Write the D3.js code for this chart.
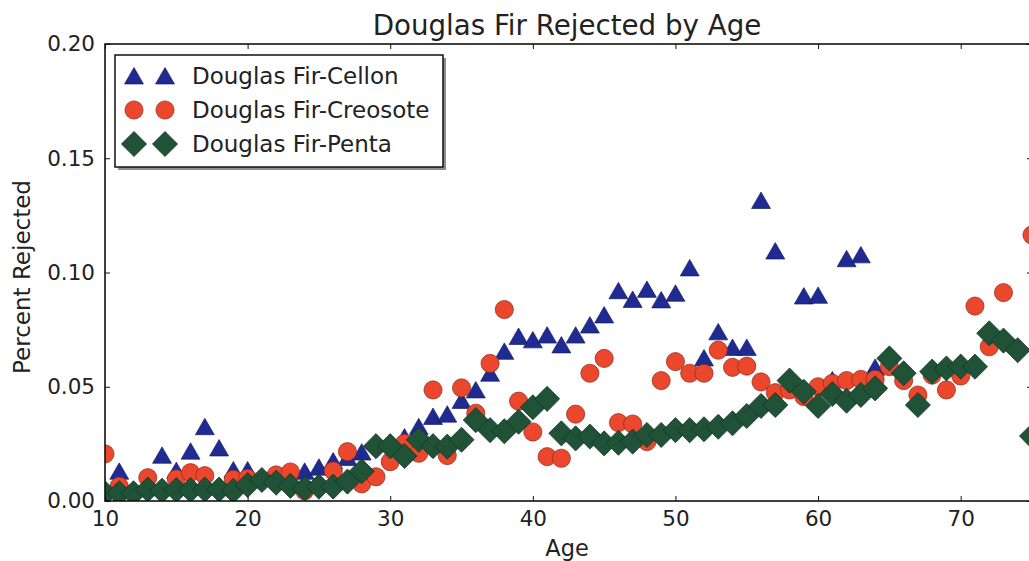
<!DOCTYPE html>
<html>
<head>
<meta charset="utf-8">
<script src="https://cdn.jsdelivr.net/npm/d3@7"></script>
<style>
  html, body { margin: 0; padding: 0; background: #fff; overflow: hidden; }
  svg { display: block; }
  text { font-family: "DejaVu Sans", sans-serif; fill: #222; }
</style>
</head>
<body>
<svg id="chart" width="1029" height="561"></svg>
<script>
// Ages 10..75
const ages = d3.range(10, 76);

// Share of poles rejected, by treatment (null = no point drawn)
const cellon = [
  null, 0.013, null, null, 0.020, 0.0133, 0.0218, 0.0325, 0.0232, 0.0136,
  0.0136, null, null, null, 0.013, 0.0148, 0.0175, 0.0190, 0.0214, null,
  null, 0.028, 0.0325, 0.037, 0.038, 0.044, 0.0486, 0.0559, 0.0655, 0.072,
  0.0705, 0.0726, 0.0683, 0.0726, 0.077, 0.0814, 0.092, 0.0882, 0.0926, 0.088,
  0.0909, 0.102, 0.0626, 0.074, 0.0672, 0.0672, 0.1315, 0.1094, null, 0.0897,
  0.090, 0.053, 0.106, 0.1077, 0.0585, null, null, null, null, null,
  null, null, null, null, null, null
];
const creosote = [
  0.0206, 0.0065, null, 0.0102, null, 0.0097, 0.0124, 0.0111, null, 0.0095,
  0.0099, null, 0.0114, 0.0127, 0.0045, null, 0.0132, 0.0216, 0.0075, 0.0106,
  0.0172, 0.0252, 0.0209, 0.0486, 0.0199, 0.0495, 0.0384, 0.0602, 0.0838, 0.0437,
  0.0302, 0.0194, 0.0187, 0.038, 0.0559, 0.0624, 0.0343, 0.0337, 0.026, 0.0527,
  0.061, 0.0559, 0.0559, 0.066, 0.0585, 0.059, 0.0521, 0.0474, 0.0486, 0.0457,
  0.050, 0.0515, 0.0527, 0.0532, 0.0532, 0.0588, 0.0527, 0.0464, 0.0551, 0.0486,
  0.0547, 0.0853, 0.0675, 0.0912, null, 0.1164
];
const penta = [
  0.0034, 0.0034, 0.0034, 0.005, 0.0045, 0.0048, 0.0048, 0.005, 0.005, 0.0045,
  0.007, 0.0092, 0.008, 0.0066, 0.0055, 0.0063, 0.0063, 0.0085, 0.013, 0.024,
  0.024, 0.0197, 0.0268, 0.024, 0.0238, 0.0268, 0.0354, 0.031, 0.0305, 0.0347,
  0.041, 0.0447, 0.0296, 0.0274, 0.0282, 0.0252, 0.0255, 0.026, 0.0289, 0.0289,
  0.031, 0.031, 0.0314, 0.0325, 0.034, 0.0372, 0.0416, 0.042, 0.0527, 0.0478,
  0.0416, 0.0468, 0.0439, 0.0464, 0.0493, 0.0624, 0.0559, 0.042, 0.0566, 0.058,
  0.0588, 0.0588, 0.0734, 0.0702, 0.066, 0.0284
];

const seriesNames = ["Douglas Fir-Cellon", "Douglas Fir-Creosote", "Douglas Fir-Penta"];
const xTicks = [10, 20, 30, 40, 50, 60, 70];
const yTicks = [0, 0.05, 0.10, 0.15, 0.20];

const svg = d3.select("#chart");
const plotL = 105, plotR = 1032, plotT = 44, plotB = 501;

const x = d3.scaleLinear().domain([10, 75]).range([plotL, plotR]);
const y = d3.scaleLinear().domain([0, 0.2]).range([plotB, plotT]);

// Marker shapes
const shapes = [
  { type: d3.symbolTriangle, fill: "#1f2b93", stroke: "#141c60", area: 155 },
  { type: d3.symbolCircle,   fill: "#ea472c", stroke: "#8a2a1c", area: 260 },
  { type: d3.symbolSquare,   fill: "#1f5236", stroke: "#123321", area: 315, rotate: 45 }
];
function markerPath(s) { return d3.symbol().type(s.type).size(s.area)(); }
function markerTransform(s, cx, cy) {
  // d3's triangle is centred on its centroid; shift so the box centre sits on the point
  const dy = s.type === d3.symbolTriangle ? 2.5 : 0;
  return `translate(${cx},${cy + dy})` + (s.rotate ? ` rotate(${s.rotate})` : "");
}

// Clip markers to the axes box
svg.append("defs").append("clipPath").attr("id", "plotClip")
  .append("rect").attr("x", plotL).attr("y", plotT)
  .attr("width", plotR - plotL).attr("height", plotB - plotT);

const plot = svg.append("g").attr("clip-path", "url(#plotClip)");
[cellon, creosote, penta].forEach((vals, i) => {
  const s = shapes[i];
  const pts = ages.map((a, j) => ({ age: a, v: vals[j] })).filter(d => d.v != null);
  plot.append("g").selectAll("path").data(pts).join("path")
    .attr("d", markerPath(s))
    .attr("transform", d => markerTransform(s, x(d.age), y(d.v)))
    .attr("fill", s.fill)
    .attr("stroke", s.stroke)
    .attr("stroke-width", 0.7);
});

// Axes with inward ticks on all four sides
const tickLen = 5;
const axB = d3.axisBottom(x).tickValues(xTicks).tickSizeInner(-tickLen).tickSizeOuter(0).tickPadding(10).tickFormat(d3.format("d"));
const axT = d3.axisTop(x).tickValues(xTicks).tickSizeInner(-tickLen).tickSizeOuter(0).tickFormat("");
const axL = d3.axisLeft(y).tickValues(yTicks).tickSizeInner(-tickLen).tickSizeOuter(0).tickPadding(10).tickFormat(d3.format(".2f"));
const axR = d3.axisRight(y).tickValues(yTicks).tickSizeInner(-tickLen).tickSizeOuter(0).tickFormat("");

function styleAxis(g) {
  g.select(".domain").remove();
  g.selectAll(".tick line").attr("stroke", "#111").attr("stroke-width", 1);
  g.selectAll(".tick text").attr("fill", "#222")
    .style("font-family", "'DejaVu Sans', sans-serif").style("font-size", "21.5px");
}
svg.append("g").attr("transform", `translate(0,${plotB})`).call(axB).call(styleAxis);
svg.append("g").attr("transform", `translate(0,${plotT})`).call(axT).call(styleAxis);
svg.append("g").attr("transform", `translate(${plotL},0)`).call(axL).call(styleAxis);
svg.append("g").attr("transform", `translate(${plotR},0)`).call(axR).call(styleAxis);

// Frame
svg.append("rect").attr("x", plotL).attr("y", plotT)
  .attr("width", plotR - plotL).attr("height", plotB - plotT)
  .attr("fill", "none").attr("stroke", "#111").attr("stroke-width", 1.6);

// Title and axis labels
svg.append("text").attr("x", 567).attr("y", 35)
  .attr("text-anchor", "middle").style("font-size", "27.7px")
  .text("Douglas Fir Rejected by Age");
svg.append("text").attr("x", 567).attr("y", 556)
  .attr("text-anchor", "middle").style("font-size", "22.5px").text("Age");
svg.append("text").attr("transform", "translate(30,277) rotate(-90)")
  .attr("text-anchor", "middle").style("font-size", "23px").text("Percent Rejected");

// Legend with drop shadow
const lg = svg.append("g");
const lx = 115, ly = 55, lw = 328, lh = 112;
lg.append("rect").attr("x", lx + 3).attr("y", ly + 3).attr("width", lw).attr("height", lh)
  .attr("fill", "#8d8d9a");
lg.append("rect").attr("x", lx).attr("y", ly).attr("width", lw).attr("height", lh)
  .attr("fill", "#fff").attr("stroke", "#111").attr("stroke-width", 1.5);
const rowY = [76, 110, 144];
seriesNames.forEach((name, i) => {
  const s = shapes[i];
  [134, 165].forEach(mx => {
    lg.append("path").attr("d", markerPath(s))
      .attr("transform", markerTransform(s, mx, rowY[i]))
      .attr("fill", s.fill).attr("stroke", s.stroke).attr("stroke-width", 0.7);
  });
  lg.append("text").attr("x", 192).attr("y", rowY[i]).attr("dy", "0.36em")
    .style("font-size", "23px").text(name);
});
</script>
</body>
</html>
